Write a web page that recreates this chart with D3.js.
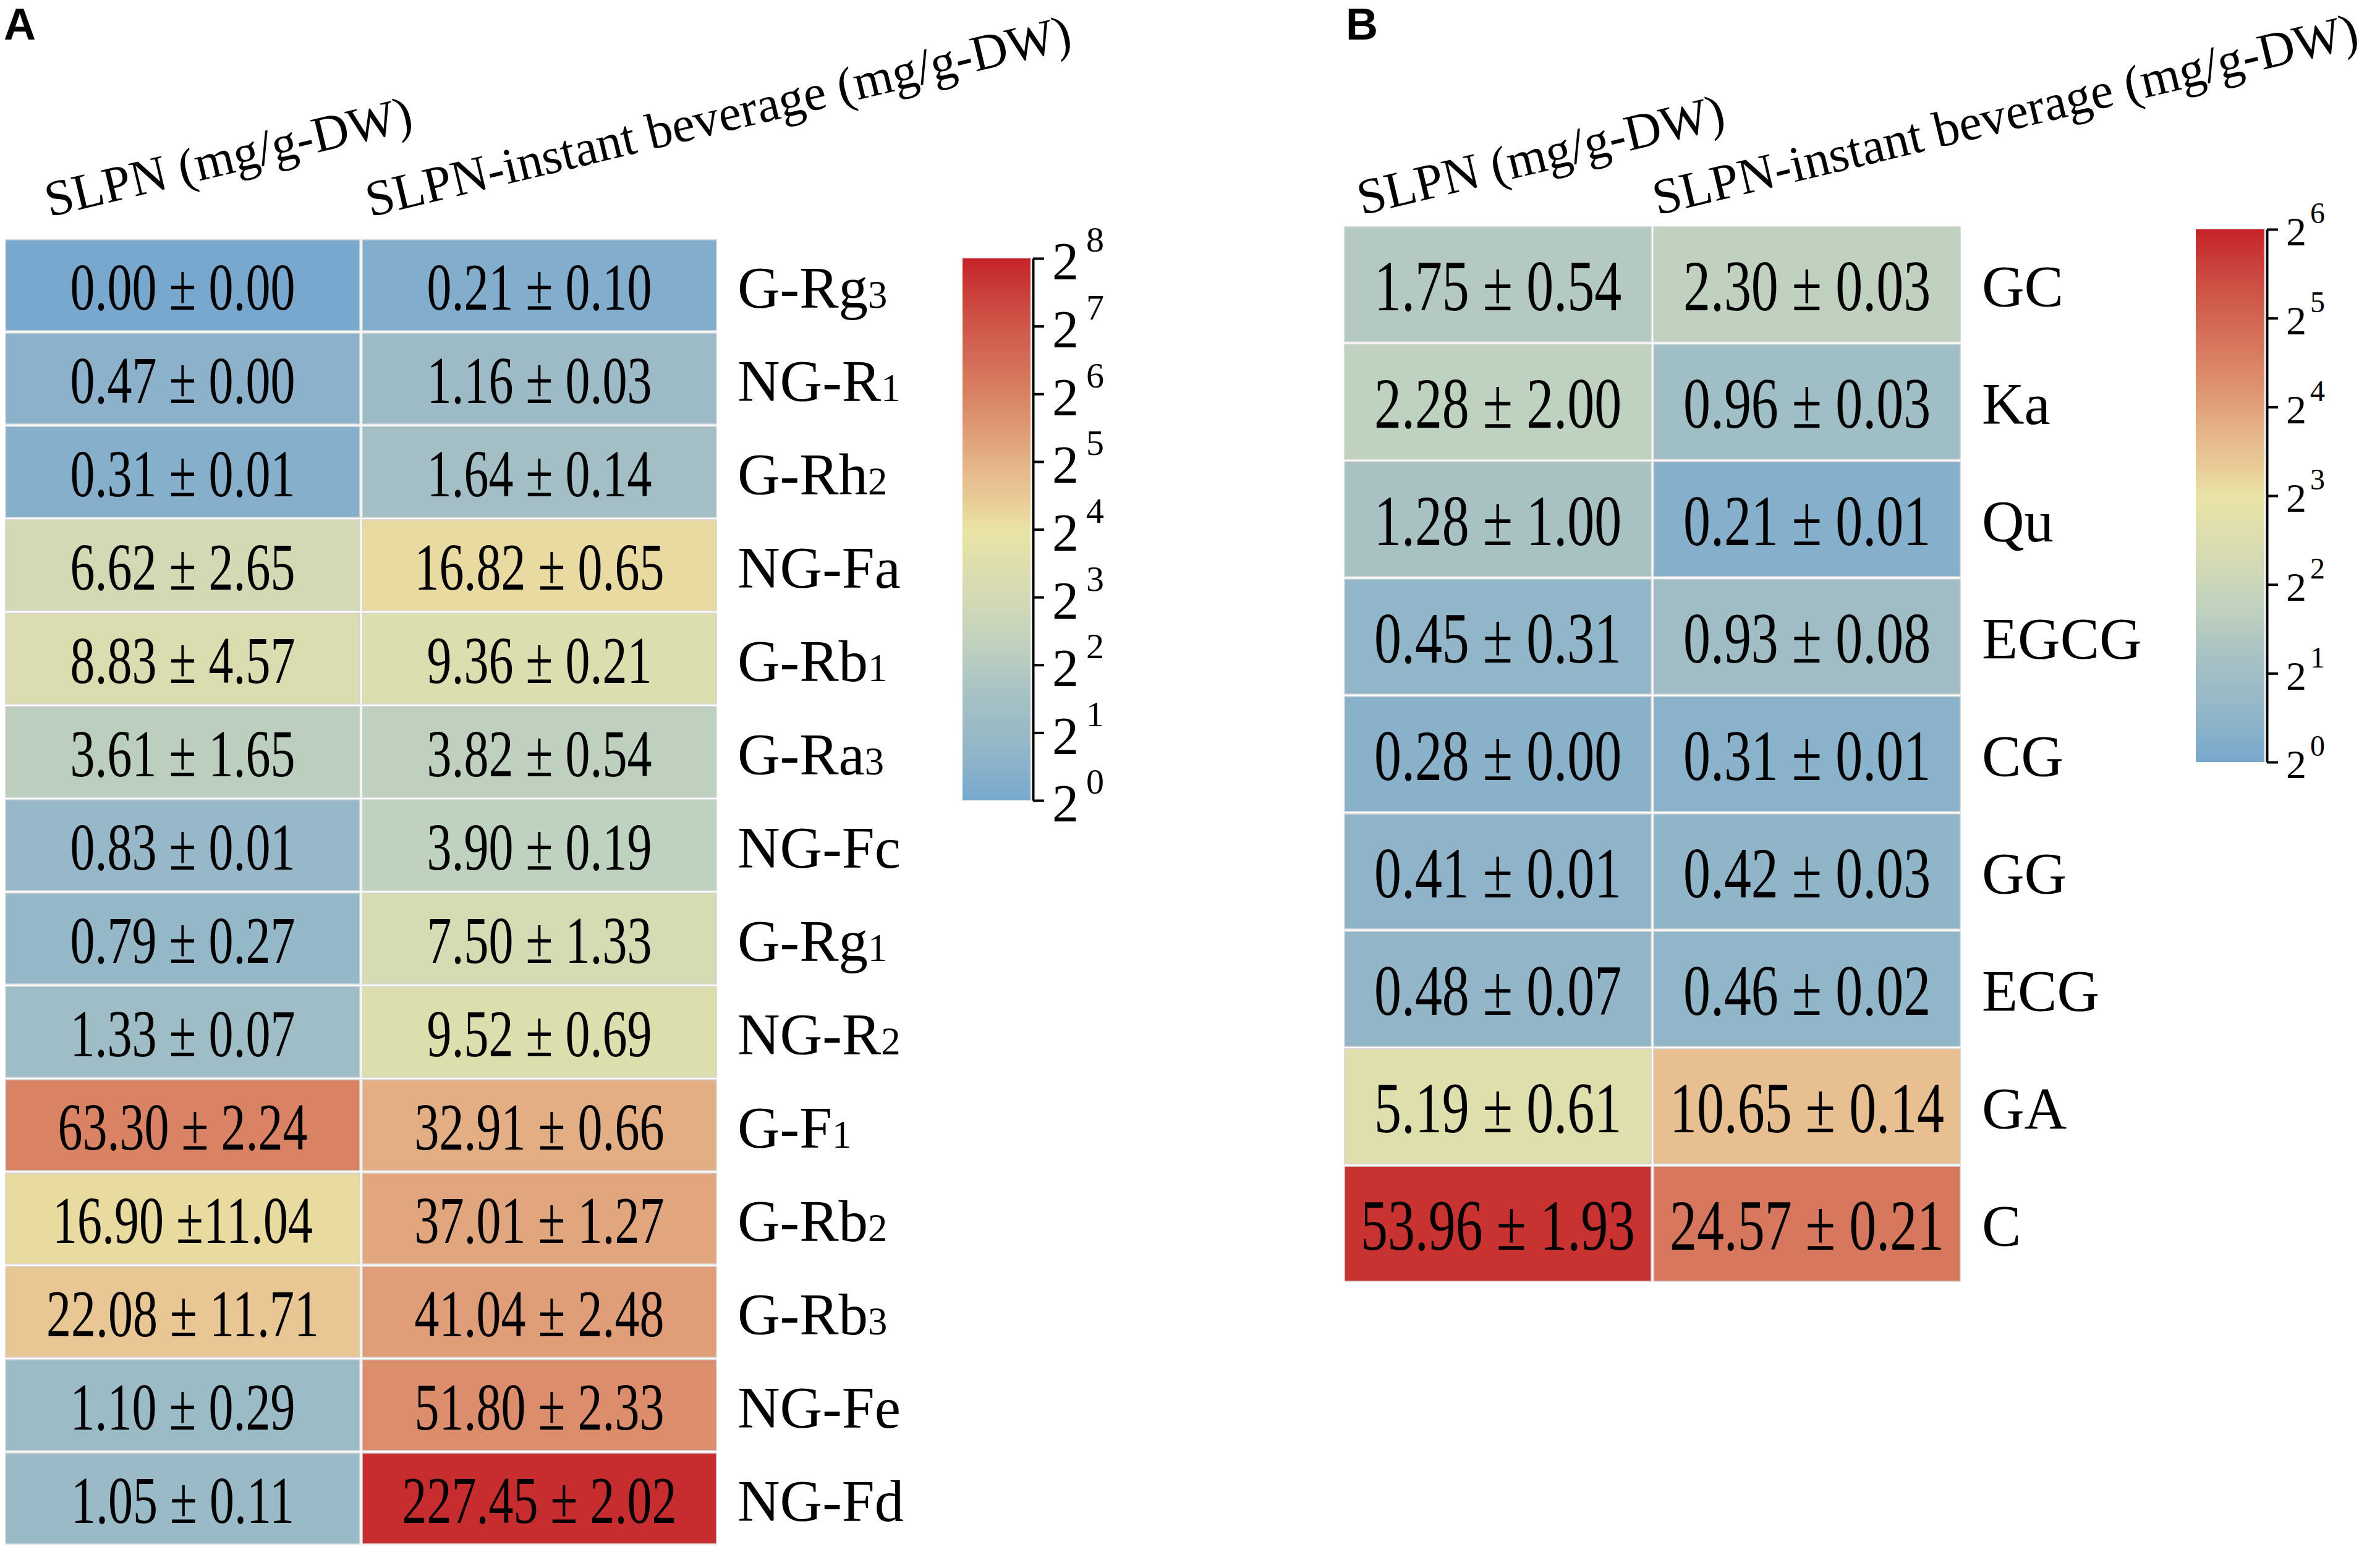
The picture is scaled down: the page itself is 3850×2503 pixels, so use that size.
<!DOCTYPE html>
<html><head><meta charset="utf-8">
<script src="https://cdn.jsdelivr.net/npm/d3@7"></script>
<style>html,body{margin:0;padding:0;background:#fff;} svg{display:block}</style>
</head><body>
<svg id="chart" width="3850" height="2503"></svg>
<script>
// ---------------- data ----------------
const columns = ["SLPN (mg/g-DW)", "SLPN-instant beverage (mg/g-DW)"];

const saponins = ["G-Rg3","NG-R1","G-Rh2","NG-Fa","G-Rb1","G-Ra3","NG-Fc","G-Rg1","NG-R2","G-F1","G-Rb2","G-Rb3","NG-Fe","NG-Fd"];
const saponinSLPN   = [0.00,0.47,0.31,6.62,8.83,3.61,0.83,0.79,1.33,63.30,16.90,22.08,1.10,1.05];
const saponinSLPNsd = [0.00,0.00,0.01,2.65,4.57,1.65,0.01,0.27,0.07,2.24,11.04,11.71,0.29,0.11];
const saponinBev    = [0.21,1.16,1.64,16.82,9.36,3.82,3.90,7.50,9.52,32.91,37.01,41.04,51.80,227.45];
const saponinBevSd  = [0.10,0.03,0.14,0.65,0.21,0.54,0.19,1.33,0.69,0.66,1.27,2.48,2.33,2.02];

const catechins = ["GC","Ka","Qu","EGCG","CG","GG","ECG","GA","C"];
const catSLPN   = [1.75,2.28,1.28,0.45,0.28,0.41,0.48,5.19,53.96];
const catSLPNsd = [0.54,2.00,1.00,0.31,0.00,0.01,0.07,0.61,1.93];
const catBev    = [2.30,0.96,0.21,0.93,0.31,0.42,0.46,10.65,24.57];
const catBevSd  = [0.03,0.03,0.01,0.08,0.01,0.03,0.02,0.14,0.21];

const exponentsA = [0,1,2,3,4,5,6,7,8];
const exponentsB = [0,1,2,3,4,5,6];

// ---------------- palette ----------------
const paletteT = [0,0.1,0.2,0.3,0.4,0.5,0.55,0.6,0.65,0.7,0.75,0.8,0.9,1];
const paletteC = ["#78a8ce","#94b7c8","#a8c2c4","#c3d3be","#d9dcb1","#e9e3a6","#e9cc98","#e6bc8e","#e2a880","#dd9470","#d98264","#d5705a","#cd4e44","#c52328"];
const palette = d3.scaleLinear().domain(paletteT).range(paletteC).interpolate(d3.interpolateRgb).clamp(true);

const svg = d3.select("#chart");
const defs = svg.append("defs");
const SERIF = "'Liberation Serif','Times New Roman',Times,serif";
const SANS = "'Liberation Sans',Arial,Helvetica,sans-serif";

function drawPanel(cfg) {
  const g = svg.append("g");
  const rows = cfg.rows;
  const x = d3.scaleBand().domain(columns).range(cfg.xRange);
  const y = d3.scaleBand().domain(rows).range(cfg.yRange);
  const maxVal = Math.pow(2, d3.max(cfg.exps));
  const toT = d3.scaleLog().domain([1, maxVal]).range([0, 1]).clamp(true);
  const color = v => palette(toT(v + 1));

  const cells = [];
  rows.forEach((r, i) => {
    cells.push({row: r, col: columns[0], mean: cfg.m1[i], sd: cfg.s1[i]});
    cells.push({row: r, col: columns[1], mean: cfg.m2[i], sd: cfg.s2[i]});
  });

  // panel letter
  g.append("text").attr("x", cfg.letterX).attr("y", 64)
    .attr("font-family", SANS).attr("font-weight", "bold").attr("font-size", 72)
    .text(cfg.letter);

  // cells
  g.selectAll("rect.cell").data(cells).join("rect").attr("class", "cell")
    .attr("x", d => x(d.col) + 2).attr("y", d => y(d.row) + 2)
    .attr("width", x.bandwidth() - 4).attr("height", y.bandwidth() - 4)
    .attr("fill", d => color(d.mean))
    .attr("stroke", "#d5d5d5").attr("stroke-width", 1.6);

  // values
  const vf = cfg.valueFont, vs = cfg.valueStretch;
  const digitH = 0.676 * vf * vs;
  g.selectAll("g.val").data(cells).join("g").attr("class", "val")
    .attr("transform", d => `translate(${x(d.col) + x.bandwidth() / 2},${y(d.row) + y.bandwidth() / 2 + digitH / 2 + 3}) scale(1,${vs})`)
    .append("text").attr("text-anchor", "middle")
    .attr("font-family", SERIF).attr("font-size", vf).attr("fill", "#000")
    .text(d => `${d.mean.toFixed(2)} \u00b1${d.sd >= 11 && d.sd < 11.5 ? "" : " "}${d.sd.toFixed(2)}`);

  // row labels (trailing digit as small subscript)
  const lab = g.selectAll("text.rowlab").data(rows).join("text").attr("class", "rowlab")
    .attr("x", cfg.labelX).attr("y", d => y(d) + y.bandwidth() / 2 + cfg.labelFont * 0.38)
    .attr("font-family", SERIF).attr("font-size", cfg.labelFont);
  lab.each(function (d) {
    const m = d.match(/^(.*?)(\d+)$/);
    const t = d3.select(this);
    if (m) {
      t.append("tspan").text(m[1]);
      t.append("tspan").attr("font-size", cfg.labelFont * 0.66).text(m[2]);
    } else t.text(d);
  });

  // column headers
  g.selectAll("text.colhead").data(columns).join("text").attr("class", "colhead")
    .attr("transform", (d, i) => `translate(${x(d) + cfg.headOffsets[i]},${cfg.headY}) rotate(-13.5)`)
    .attr("font-family", SERIF).attr("font-size", 82)
    .text(d => d);

  // colour bar
  const cb = d3.scaleLog().base(2).domain([1, maxVal]).range(cfg.cbRange);
  const gid = "grad" + cfg.letter;
  const grad = defs.append("linearGradient").attr("id", gid)
    .attr("x1", 0).attr("y1", 1).attr("x2", 0).attr("y2", 0);
  d3.range(0, 1.0001, 0.02).forEach(t => {
    grad.append("stop").attr("offset", t).attr("stop-color", palette(t));
  });
  g.append("rect").attr("x", cfg.cbX).attr("y", cfg.cbRange[1])
    .attr("width", cfg.cbW).attr("height", cfg.cbRange[0] - cfg.cbRange[1])
    .attr("fill", `url(#${gid})`);

  const axisG = g.append("g").attr("transform", `translate(${cfg.cbX + cfg.cbW + 4},0)`)
    .call(d3.axisRight(cb).tickValues(cfg.exps.map(e => Math.pow(2, e)))
      .tickSize(18).tickSizeOuter(0).tickFormat(""));
  axisG.select(".domain").attr("stroke", "#000").attr("stroke-width", 4);
  axisG.selectAll(".tick line").attr("stroke", "#000").attr("stroke-width", 4);

  const tl = g.selectAll("text.cblab").data(cfg.exps).join("text").attr("class", "cblab")
    .attr("x", cfg.cbX + cfg.cbW + 4 + 31)
    .attr("y", e => cb(Math.pow(2, e)) + cfg.tickFont * 0.4)
    .attr("font-family", SERIF).attr("font-size", cfg.tickFont);
  tl.append("tspan").text("2");
  tl.append("tspan").attr("dx", cfg.supDx).attr("dy", -cfg.supRaise)
    .attr("font-size", cfg.supFont).text(e => e);
}

drawPanel({
  letter: "A", letterX: 6,
  rows: saponins, m1: saponinSLPN, s1: saponinSLPNsd, m2: saponinBev, s2: saponinBevSd,
  xRange: [7, 1161], yRange: [386, 2500],
  valueFont: 80, valueStretch: 1.36,
  labelX: 1193, labelFont: 95,
  headOffsets: [73, 15], headY: 351,
  exps: exponentsA, cbX: 1557, cbW: 110, cbRange: [1295, 418],
  tickFont: 86, supFont: 58, supRaise: 45, supDx: 12
});

drawPanel({
  letter: "B", letterX: 2177,
  rows: catechins, m1: catSLPN, s1: catSLPNsd, m2: catBev, s2: catBevSd,
  xRange: [2173, 3173], yRange: [365, 2075],
  valueFont: 88, valueStretch: 1.32,
  labelX: 3206, labelFont: 95,
  headOffsets: [30, 8], headY: 348,
  exps: exponentsB, cbX: 3552, cbW: 111, cbRange: [1233, 371],
  tickFont: 66, supFont: 48, supRaise: 36, supDx: 6
});
</script>
</body></html>
